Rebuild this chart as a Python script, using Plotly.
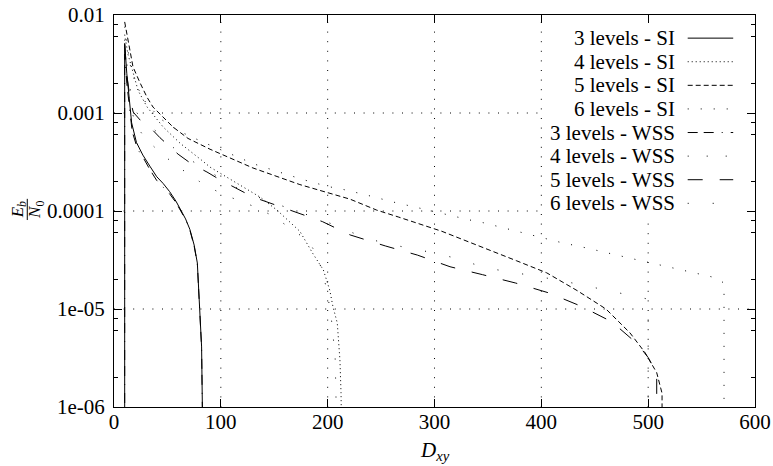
import plotly.graph_objects as go

# ---------------- data ----------------
labels = ["3 levels - SI", "4 levels - SI", "5 levels - SI", "6 levels - SI",
          "3 levels - WSS", "4 levels - WSS", "5 levels - WSS", "6 levels - WSS"]

x_3si = [10, 10, 12, 14, 16.5, 21, 27, 34, 40, 46, 52, 58, 62, 67, 71, 75, 78, 80.5, 82, 83.3]
y_3si = [1e-7, 5.13e-3, 2.51e-3, 1.41e-3, 7.94e-4, 5.01e-4, 3.72e-4, 2.82e-4, 2.24e-4, 1.91e-4,
         1.58e-4, 1.26e-4, 1.05e-4, 8.3e-5, 6.5e-5, 4.5e-5, 2.95e-5, 1.0e-5, 4.1e-6, 3.2e-7]

x_4si = [10, 13, 17, 22.5, 31, 46, 62, 74, 82, 90, 106, 124.5, 137, 152.6, 174, 186, 196, 202,
         205, 209, 210, 211.5, 212.5, 213.4]
y_4si = [6.3e-3, 4.0e-3, 2.8e-3, 1.7e-3, 1.15e-3, 7.2e-4, 4.9e-4, 3.9e-4, 3.3e-4, 2.8e-4, 2.2e-4,
         1.66e-4, 1.38e-4, 1.02e-4, 6.2e-5, 3.7e-5, 2.5e-5, 1.55e-5, 1.05e-5, 7.2e-6, 4.8e-6,
         3.0e-6, 1.4e-6, 3e-7]

x_5si = [10, 15, 17.8, 24.3, 30.9, 36.5, 45.9, 55.2, 69.3, 89.9, 130, 174, 221, 246, 266, 286.5,
         307, 326.7, 347, 377, 405, 434, 460.5, 483, 497, 508, 513, 513]
y_5si = [8.5e-3, 4.4e-3, 2.95e-3, 2.04e-3, 1.45e-3, 1.15e-3, 9.1e-4, 7.2e-4, 5.5e-4, 4.27e-4,
         2.75e-4, 1.86e-4, 1.32e-4, 1.02e-4, 8.7e-5, 7.4e-5, 6.2e-5, 5.1e-5, 4.2e-5, 3.1e-5,
         2.34e-5, 1.53e-5, 1.0e-5, 5.7e-6, 3.6e-6, 2.24e-6, 1.38e-6, 3e-7]

x_6si = [10, 15, 20, 30, 45, 60, 83, 107, 131, 154, 177, 200, 213.5, 237, 262, 286, 309, 333,
         345.5, 394, 417.5, 442, 466, 490.5, 515, 538, 562.6, 571, 571]
y_6si = [7.6e-3, 3.16e-3, 2.0e-3, 1.26e-3, 8.5e-4, 6.6e-4, 5.06e-4, 3.89e-4, 3.02e-4, 2.51e-4,
         2.09e-4, 1.78e-4, 1.67e-4, 1.45e-4, 1.23e-4, 1.07e-4, 9.3e-5, 8.1e-5, 7.6e-5, 5.6e-5,
         4.8e-5, 4.2e-5, 3.63e-5, 3.16e-5, 2.75e-5, 2.4e-5, 2.09e-5, 1.84e-5, 3e-7]

x_3wss = [10, 10, 12, 14, 17, 22, 28, 34, 40, 46, 52, 58, 62, 67, 71, 75, 78, 80.5, 82, 83.3]
y_3wss = [1e-7, 4.0e-3, 2.0e-3, 1.2e-3, 6.5e-4, 4.3e-4, 3.4e-4, 2.6e-4, 2.05e-4, 1.75e-4,
          1.5e-4, 1.22e-4, 1.03e-4, 8.2e-5, 6.4e-5, 4.4e-5, 2.9e-5, 1.0e-5, 4.0e-6, 3e-7]

x_4wss = [10, 13, 17, 22, 30, 45, 60, 80, 100, 120, 135, 150, 164, 177, 186, 195, 200, 204, 207, 209]
y_4wss = [3.55e-3, 1.58e-3, 1.0e-3, 7.1e-4, 5.4e-4, 3.8e-4, 2.82e-4, 2.0e-4, 1.51e-4, 1.23e-4,
          1.07e-4, 8.7e-5, 6.8e-5, 5.4e-5, 4.2e-5, 2.5e-5, 1.41e-5, 7.1e-6, 3.2e-6, 3e-7]

x_5wss = [10, 12, 15, 18, 22, 26, 34, 43, 60, 73, 87, 99, 130, 165, 195, 221, 254, 284, 314.5,
          345, 376, 407, 437, 466, 490, 500, 508, 508]
y_5wss = [5.0e-3, 2.45e-3, 1.41e-3, 1.02e-3, 9.1e-4, 8.1e-4, 7.1e-4, 5.6e-4, 3.8e-4, 3.0e-4,
          2.5e-4, 2.09e-4, 1.39e-4, 1.02e-4, 7.8e-5, 5.7e-5, 4.4e-5, 3.55e-5, 2.7e-5, 2.24e-5,
          1.84e-5, 1.46e-5, 1.07e-5, 7.4e-6, 4.4e-6, 3.2e-6, 2.2e-6, 3e-7]

x_6wss = [10, 13, 18, 26, 34, 43, 60, 73, 87, 110, 130, 165, 195, 235, 257.5, 280, 302, 326,
          347, 370, 392, 413, 438, 460.5, 483, 500, 500]
y_6wss = [5.6e-3, 2.5e-3, 1.12e-3, 8.7e-4, 7.4e-4, 6.0e-4, 4.0e-4, 3.24e-4, 2.63e-4, 1.82e-4,
          1.45e-4, 1.05e-4, 8.1e-5, 5.3e-5, 4.6e-5, 4.1e-5, 3.7e-5, 3.16e-5, 2.63e-5, 2.4e-5,
          2.19e-5, 2.0e-5, 1.76e-5, 1.56e-5, 1.36e-5, 1.26e-5, 3e-7]

x_range = [0, 600]
y_range_exp = [-6, -2]
x_tickvals = [0, 100, 200, 300, 400, 500, 600]
y_tickvals = [1e-6, 1e-5, 1e-4, 1e-3, 1e-2]
y_ticktext = ["1e-06", "1e-05", "0.0001", "0.001", "0.01"]
y_minor = [m * 10.0 ** e for e in range(-6, -2) for m in (2, 6, 8)]

# ---------------- styling ----------------
FONT = "Liberation Serif"
dashes = ["solid", "1px,3px", "5px,3px", "1px,12px",
          "10px,6px,10px,8px,1px,8px", "1px,18px", "15px,17px", "1px,24px"]
GRID_DASH = "1px,8.6px"

series = [(x_3si, y_3si), (x_4si, y_4si), (x_5si, y_5si), (x_6si, y_6si),
          (x_3wss, y_3wss), (x_4wss, y_4wss), (x_5wss, y_5wss), (x_6wss, y_6wss)]

fig = go.Figure()
for (xs, ys), name, d in zip(series, labels, dashes):
    fig.add_trace(go.Scatter(x=xs, y=ys, mode="lines", name=name,
                             line=dict(color="black", width=1, dash=d)))

shapes = []
# dotted grid at the major ticks (interior ones)
for xv in x_tickvals[1:-1]:
    shapes.append(dict(type="line", xref="x", yref="paper", x0=xv, x1=xv, y0=0, y1=1,
                       layer="below", line=dict(color="black", width=1, dash=GRID_DASH)))
for yv in y_tickvals[1:-1]:
    shapes.append(dict(type="line", xref="paper", yref="y", x0=0, x1=1, y0=yv, y1=yv,
                       layer="below", line=dict(color="black", width=1, dash=GRID_DASH)))

# white box behind the in-plot legend
shapes.append(dict(type="rect", xref="paper", yref="paper", x0=0.672, x1=0.997,
                   y0=0.487, y1=0.985, fillcolor="white", line=dict(width=0), layer="below"))

annotations = []
row0 = 0.941
step = 0.0602
for i, (name, d) in enumerate(zip(labels, dashes)):
    yy = row0 - i * step
    annotations.append(dict(text=name, xref="paper", yref="paper", x=0.879, y=yy,
                            xanchor="right", yanchor="middle", showarrow=False,
                            font=dict(family=FONT, size=21, color="black")))
    shapes.append(dict(type="line", xref="paper", yref="paper", x0=0.895, x1=0.966,
                       y0=yy, y1=yy, line=dict(color="black", width=1, dash=d)))

# y-axis title: rotated fraction Eb / N0
title_font = dict(family=FONT, size=17, color="black")
annotations.append(dict(text="<i>E</i><sub><i>b</i></sub>", xref="paper", yref="paper",
                        x=-0.149, y=0.503, xanchor="center", yanchor="middle",
                        textangle=-90, showarrow=False, font=title_font))
annotations.append(dict(text="<i>N</i><sub>0</sub>", xref="paper", yref="paper",
                        x=-0.1215, y=0.503, xanchor="center", yanchor="middle",
                        textangle=-90, showarrow=False, font=title_font))
shapes.append(dict(type="line", xref="paper", yref="paper", x0=-0.1353, x1=-0.1353,
                   y0=0.477, y1=0.531, line=dict(color="black", width=1)))

# x-axis title
annotations.append(dict(text="<i>D</i><sub><i>xy</i></sub>", xref="paper", yref="paper",
                        x=0.5, y=-0.112, xanchor="center", yanchor="middle", showarrow=False,
                        font=dict(family=FONT, size=21, color="black")))

axis_common = dict(showline=True, linecolor="black", linewidth=1, mirror="ticks",
                   ticks="inside", ticklen=8, tickwidth=1, tickcolor="black",
                   showgrid=False, zeroline=False, automargin=False,
                   tickfont=dict(family=FONT, size=21, color="black"))

fig.update_xaxes(range=x_range, tickmode="array", tickvals=x_tickvals,
                 ticklabelstandoff=-4, **axis_common)
fig.update_yaxes(type="log", range=y_range_exp, tickmode="array", tickvals=y_tickvals,
                 ticktext=y_ticktext, ticklabelstandoff=4,
                 minor=dict(tickmode="array", tickvals=y_minor, ticks="inside", ticklen=4,
                            tickcolor="black", showgrid=False),
                 **axis_common)

fig.update_layout(width=773, height=466, margin=dict(l=114, r=18, t=15, b=59),
                  plot_bgcolor="white", paper_bgcolor="white", showlegend=False,
                  shapes=shapes, annotations=annotations,
                  font=dict(family=FONT, color="black"))

fig.write_html("out.html")
